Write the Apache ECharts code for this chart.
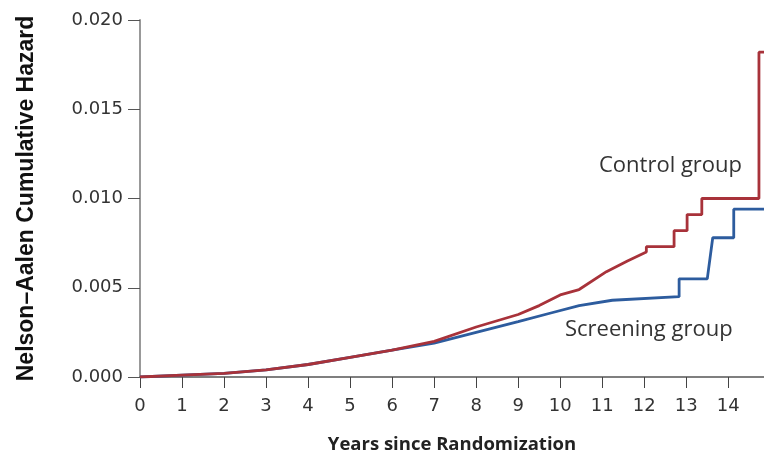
<!DOCTYPE html>
<html>
<head>
<meta charset="utf-8">
<script src="https://cdn.jsdelivr.net/npm/echarts@6/dist/echarts.min.js"></script>
<style>
html,body{margin:0;padding:0;background:#fff;}
#chart{width:764px;height:459px;}
</style>
</head>
<body>
<div id="chart"></div>
<script>
// Tick labels
const xTicks = [0,1,2,3,4,5,6,7,8,9,10,11,12,13,14];
const yTicks = [0, 0.005, 0.010, 0.015, 0.020];

// Control group: [years, cumulative hazard] (repeated years = vertical jumps)
const controlYears = [0,1,2,3,4,5,6,7,8,9,9.5,10,10.45,11.1,11.6,12.05,12.05,12.71,12.71,13.02,13.02,13.37,13.37,14.73,14.73,14.85];
const controlHaz   = [0,0.0001,0.0002,0.0004,0.0007,0.0011,0.0015,0.0020,0.0028,0.0035,0.0040,0.0046,0.0049,0.0059,0.0065,0.0070,0.0073,0.0073,0.0082,0.0082,0.0091,0.0091,0.0100,0.0100,0.0182,0.0182];

// Screening group
const screenYears = [0,1,2,3,4,5,6,7,8,9,9.8,10.45,11.24,12.83,12.83,13.5,13.63,14.13,14.13,14.85];
const screenHaz   = [0,0.0001,0.0002,0.0004,0.0007,0.0011,0.0015,0.0019,0.0025,0.0031,0.0036,0.0040,0.0043,0.0045,0.0055,0.0055,0.0078,0.0078,0.0094,0.0094];

const seriesNames = ['Control group', 'Screening group'];

const zip = (a, b) => a.map((v, i) => [v, b[i]]);

const chart = echarts.init(document.getElementById('chart'));
const TICKFONT = 'DejaVu Sans';
const LABELFONT = 'Open Sans';
chart.setOption({
  animation: false,
  backgroundColor: '#fff',
  grid: { left: 140, right: 0, top: 20, bottom: 80 },
  xAxis: {
    type: 'value', min: 0, max: 14.85,
    name: 'Years since Randomization', nameLocation: 'middle', nameGap: 58,
    nameTextStyle: { fontFamily: LABELFONT, fontWeight: 'bold', fontSize: 18.5, color: '#222' },
    axisLine: { lineStyle: { color: '#555', width: 1.5 } },
    axisTick: { show: true, length: 11, lineStyle: { color: '#444' }, customValues: xTicks },
    axisLabel: { fontFamily: TICKFONT, fontSize: 18, color: '#333', margin: 20, customValues: xTicks },
    splitLine: { show: false }
  },
  yAxis: {
    type: 'value', min: 0, max: 0.02, interval: 0.005,
    name: 'Nelson\u2013Aalen Cumulative Hazard', nameLocation: 'middle', nameGap: 102,
    nameTextStyle: { fontFamily: 'Liberation Sans', fontWeight: 'bold', fontSize: 23, color: '#111' },
    axisLine: { show: true, lineStyle: { color: '#999', width: 2 } },
    axisTick: { show: true, length: 12, lineStyle: { color: '#555' }, customValues: yTicks },
    axisLabel: { fontFamily: TICKFONT, fontSize: 18, color: '#333', margin: 17,
      customValues: yTicks, formatter: v => v.toFixed(3) },
    splitLine: { show: false }
  },
  series: [
    {
      name: seriesNames[1], type: 'line', symbol: 'none',
      data: zip(screenYears, screenHaz),
      lineStyle: { color: '#2d5c9e', width: 2.8 }, z: 2
    },
    {
      name: seriesNames[0], type: 'line', symbol: 'none',
      data: zip(controlYears, controlHaz),
      lineStyle: { color: '#a8323a', width: 2.8 }, z: 3
    }
  ],
  graphic: [
    { type: 'text', x: 599, y: 166,
      style: { text: seriesNames[0], fontFamily: LABELFONT, fontSize: 22, fill: '#333', verticalAlign: 'middle' } },
    { type: 'text', x: 565, y: 330,
      style: { text: seriesNames[1], fontFamily: LABELFONT, fontSize: 22, fill: '#333', verticalAlign: 'middle' } }
  ]
});
</script>
</body>
</html>
